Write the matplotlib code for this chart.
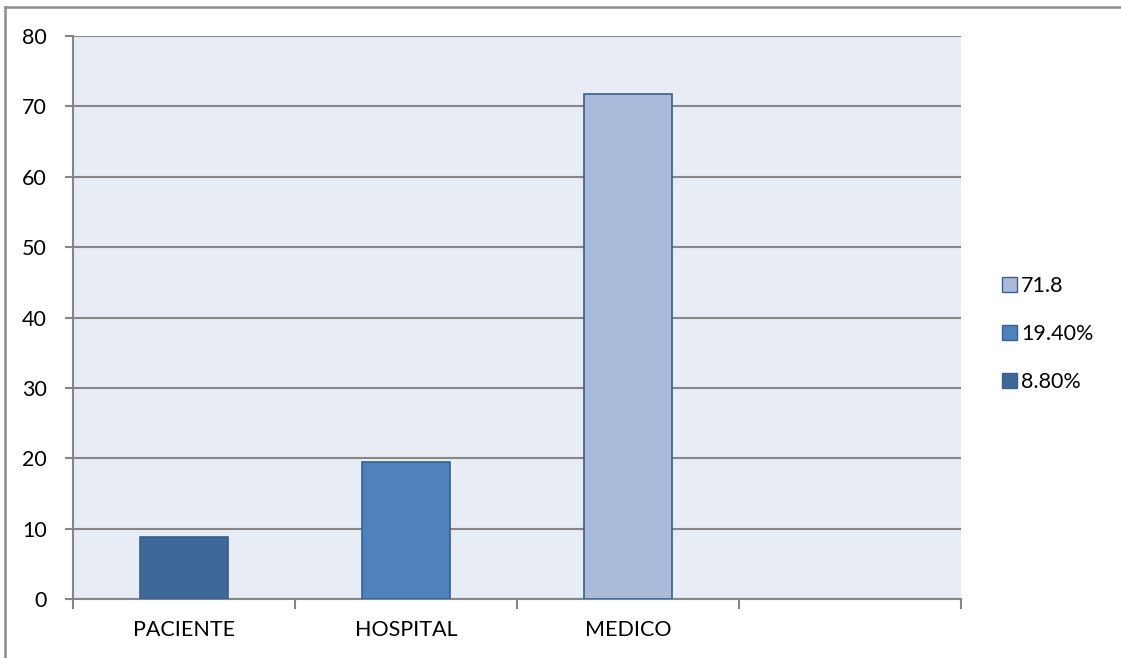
import matplotlib
matplotlib.use("Agg")
import matplotlib.pyplot as plt
from matplotlib.patches import Patch
from matplotlib.lines import Line2D
from matplotlib.ticker import FixedLocator, MultipleLocator

# Data
categories = ["PACIENTE", "HOSPITAL", "MEDICO", ""]
values = [8.8, 19.4, 71.8]
legend_labels = ["71.8", "19.40%", "8.80%"]

bar_colors = ["#3F6899", "#4F81BD", "#AABADA"]
edge_color = "#3A5F8B"
grid_color = "#868686"

plt.rcParams["font.family"] = ["Lato", "DejaVu Sans"]
FS = 15.5

fig = plt.figure(figsize=(11.21, 6.58), dpi=100)
ax = fig.add_axes([73 / 1121, 1 - 599 / 658, (961 - 73) / 1121, (599 - 36) / 658])
ax.set_facecolor("#E8ECF4")

x = list(range(len(values)))
ax.bar(x, values, width=0.4, color=bar_colors, edgecolor=edge_color, linewidth=1.2, zorder=3)

ax.set_xlim(-0.5, len(categories) - 0.5)
ax.set_ylim(0, 80)
ax.yaxis.set_major_locator(MultipleLocator(10))
ax.grid(axis="y", color=grid_color, linewidth=1.5, zorder=1)
ax.set_axisbelow(True)

for s in ["top", "right"]:
    ax.spines[s].set_visible(False)
for s in ["left", "bottom"]:
    ax.spines[s].set_color(grid_color)
    ax.spines[s].set_linewidth(1.5)

ax.set_xticks(range(len(categories)))
ax.set_xticklabels(categories, fontsize=FS)
ax.xaxis.set_minor_locator(FixedLocator([i - 0.5 for i in range(len(categories) + 1)]))
ax.tick_params(axis="x", which="major", length=0, pad=15)
ax.tick_params(axis="x", which="minor", length=7, width=1.5, color=grid_color)
ax.tick_params(axis="y", which="major", length=6, width=1.5, color=grid_color, labelsize=FS, pad=13)

handles = [Patch(facecolor=bar_colors[2], edgecolor=edge_color, linewidth=1),
           Patch(facecolor=bar_colors[1], edgecolor=edge_color, linewidth=1),
           Patch(facecolor=bar_colors[0], edgecolor=edge_color, linewidth=1)]
fig.legend(handles, legend_labels, loc="center left", bbox_to_anchor=(1002 / 1121, 1 - 334 / 658),
           frameon=False, fontsize=FS, handlelength=0.7, handleheight=0.7,
           handletextpad=0.2, labelspacing=1.3, borderpad=0, borderaxespad=0)

# Outer chart frame (left and top edges)
fig.add_artist(Line2D([5 / 1121, 5 / 1121], [0, 1 - 7 / 658], transform=fig.transFigure,
                      color="#8C8C8C", linewidth=1.8))
fig.add_artist(Line2D([5 / 1121, 1], [1 - 7 / 658, 1 - 7 / 658], transform=fig.transFigure,
                      color="#8C8C8C", linewidth=1.8))

fig.savefig("out.png", dpi=100, facecolor="white")
